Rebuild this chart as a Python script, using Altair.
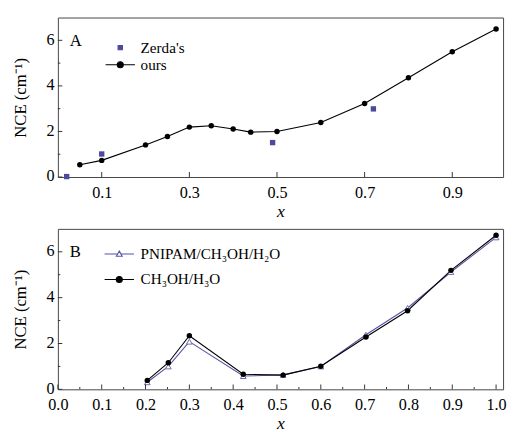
import altair as alt
import pandas as pd

# ---------------- data ----------------
ours_x = [0.05, 0.10, 0.20, 0.25, 0.30, 0.35, 0.40, 0.44, 0.50, 0.60, 0.70, 0.80, 0.90, 1.00]
ours_y = [0.54, 0.73, 1.41, 1.78, 2.19, 2.25, 2.11, 1.97, 2.00, 2.39, 3.23, 4.36, 5.50, 6.50]
zerda_x = [0.02, 0.10, 0.49, 0.72]
zerda_y = [0.02, 1.01, 1.51, 2.99]

b_x = [0.204, 0.252, 0.300, 0.423, 0.514, 0.600, 0.703, 0.798, 0.897, 1.000]
meoh_y = [0.39, 1.16, 2.34, 0.66, 0.62, 1.01, 2.28, 3.43, 5.19, 6.72]
pnipam_y = [0.31, 1.00, 2.08, 0.58, 0.63, 1.00, 2.38, 3.55, 5.12, 6.63]

top_series = ["Zerda's", "ours"]
bot_series = ["PNIPAM/CH₃OH/H₂O", "CH₃OH/H₃O"]
panel_letters = ["A", "B"]

top_xticks = [0.1, 0.3, 0.5, 0.7, 0.9]
bot_xticks = [0.0, 0.1, 0.2, 0.3, 0.4, 0.5, 0.6, 0.7, 0.8, 0.9, 1.0]
bot_xminor = [0.05, 0.15, 0.25, 0.35, 0.45, 0.55, 0.65, 0.75, 0.85, 0.95]
y_major = [0, 2, 4, 6]
y_minor = [1, 3, 5]

# ---------------- style ----------------
FONT = "Liberation Serif"
W = 455
H1 = 163
H2 = 164
PURPLE = "#4b4a9c"
PURPLE_LINE = "#5553a5"
TRI = "#6d6aa8"
TICK = "#333333"

LINE_CIRCLE = "M-3,0H3M0.62,0A0.62,0.62,0,1,1,-0.62,0A0.62,0.62,0,1,1,0.62,0Z"
SMALL_SQUARE = "M-0.45,-0.45H0.45V0.45H-0.45Z"
LINE_TRIANGLE = "M-3,0H-0.34M0.34,0H3M0,-0.6L0.6,0.45L-0.6,0.45Z"

AXIS_COMMON = dict(ticks=False, domain=False, grid=False,
                   labelFont=FONT, labelFontSize=16.5, labelColor="black",
                   titleFont=FONT, titleFontWeight="normal", titleColor="black")


def make_x(values):
    return alt.X("x:Q", scale=alt.Scale(domain=[0, 1.016], nice=False, zero=False),
                 axis=alt.Axis(values=values, format=".1f", title="x",
                               titleFontStyle="italic", titleFontSize=18,
                               labelFlush=False, labelPadding=7.5, titlePadding=2,
                               **AXIS_COMMON))


def make_y():
    return alt.Y("y:Q", scale=alt.Scale(domain=[0, 7], nice=False, zero=False),
                 axis=alt.Axis(values=y_major, format="d", title="NCE (cm⁻¹)",
                               labelPadding=4, labelOffset=-1, titlePadding=17,
                               titleFontSize=17, **AXIS_COMMON))


def xtick_layer(values, length, h, xv):
    df = pd.DataFrame({"x": values})
    return alt.Chart(df).mark_tick(orient="vertical", size=length, thickness=1,
                                   color=TICK, opacity=1).encode(
        x=make_x(xv), y=alt.value(h - length / 2))


def ytick_layer(values, length):
    df = pd.DataFrame({"y": values})
    return alt.Chart(df).mark_tick(orient="horizontal", size=length, thickness=1,
                                   color=TICK, opacity=1).encode(
        y=make_y(), x=alt.value(length / 2))


def legend_layer(df, domain, shapes, fills, strokes, lx, ly, row_pad, lab_off, xv):
    leg = alt.Legend(title=None, orient="none", legendX=lx, legendY=ly, padding=0,
                     rowPadding=row_pad, labelFont=FONT, labelFontSize=15.5,
                     labelColor="black", labelOffset=lab_off, symbolSize=100,
                     symbolStrokeWidth=1.1, symbolOpacity=1)
    return alt.Chart(df).transform_filter("false").mark_point(
        size=100, opacity=1, strokeWidth=1.1, filled=True).encode(
        x=make_x(xv), y=make_y(),
        shape=alt.Shape("series:N", scale=alt.Scale(domain=domain, range=shapes), legend=leg),
        fill=alt.Fill("series:N", scale=alt.Scale(domain=domain, range=fills), legend=leg),
        stroke=alt.Stroke("series:N", scale=alt.Scale(domain=domain, range=strokes), legend=leg),
    )


def letter_layer(letter):
    df = pd.DataFrame({"label": [letter]})
    return alt.Chart(df).mark_text(align="left", baseline="alphabetic", font=FONT,
                                   fontSize=17, color="black").encode(
        text="label:N", x=alt.value(12), y=alt.value(29))


def pts(df, xv, shape, size, **kw):
    return alt.Chart(df).mark_point(opacity=1, size=size, shape=shape, **kw).encode(
        x=make_x(xv), y=make_y())


def line(df, xv, color):
    return alt.Chart(df).mark_line(color=color, strokeWidth=1.1).encode(
        x=make_x(xv), y=make_y())


# ---------------- panel A ----------------
df_ours = pd.DataFrame({"x": ours_x, "y": ours_y, "series": "ours"})
df_zerda = pd.DataFrame({"x": zerda_x, "y": zerda_y, "series": "Zerda's"})
df_top = pd.concat([df_zerda, df_ours], ignore_index=True)

top = alt.layer(
    line(df_ours, top_xticks, "black"),
    pts(df_zerda, top_xticks, "square", 30, filled=True, color=PURPLE),
    pts(df_ours, top_xticks, "circle", 31, filled=True, color="black"),
    legend_layer(df_top, top_series, [SMALL_SQUARE, LINE_CIRCLE],
                 [PURPLE, "black"], [PURPLE, "black"], 56, 23, 0.5, 13, top_xticks),
    letter_layer(panel_letters[0]),
    xtick_layer(top_xticks, 5, H1, top_xticks),
    ytick_layer(y_major, 4.5), ytick_layer(y_minor, 2.5),
).properties(width=W, height=H1)

# ---------------- panel B ----------------
df_pn = pd.DataFrame({"x": b_x, "y": pnipam_y, "series": bot_series[0]})
df_me = pd.DataFrame({"x": b_x, "y": meoh_y, "series": bot_series[1]})
df_bot = pd.concat([df_pn, df_me], ignore_index=True)

bottom = alt.layer(
    line(df_pn, bot_xticks, PURPLE_LINE),
    line(df_me, bot_xticks, "black"),
    pts(df_pn, bot_xticks, "triangle-up", 34, filled=False, stroke=TRI, fill="white",
        strokeWidth=1),
    pts(df_me, bot_xticks, "circle", 31, filled=True, color="black"),
    legend_layer(df_bot, bot_series, [LINE_TRIANGLE, LINE_CIRCLE],
                 ["white", "black"], [PURPLE_LINE, "black"], 55, 18, 9, 14, bot_xticks),
    letter_layer(panel_letters[1]),
    xtick_layer(bot_xticks, 5, H2, bot_xticks), xtick_layer(bot_xminor, 2.5, H2, bot_xticks),
    ytick_layer(y_major, 4.5), ytick_layer(y_minor, 2.5),
).properties(width=W, height=H2)

chart = alt.vconcat(top, bottom, spacing=7).resolve_scale(
    shape="independent", fill="independent", stroke="independent"
).properties(
    padding={"left": 3, "top": 4, "right": 0, "bottom": 0},
).configure(
    font=FONT
).configure_view(
    stroke="#444444", strokeWidth=1
).configure_axis(**AXIS_COMMON)

chart.save("out.html", embed_options={"renderer": "svg", "actions": False})
